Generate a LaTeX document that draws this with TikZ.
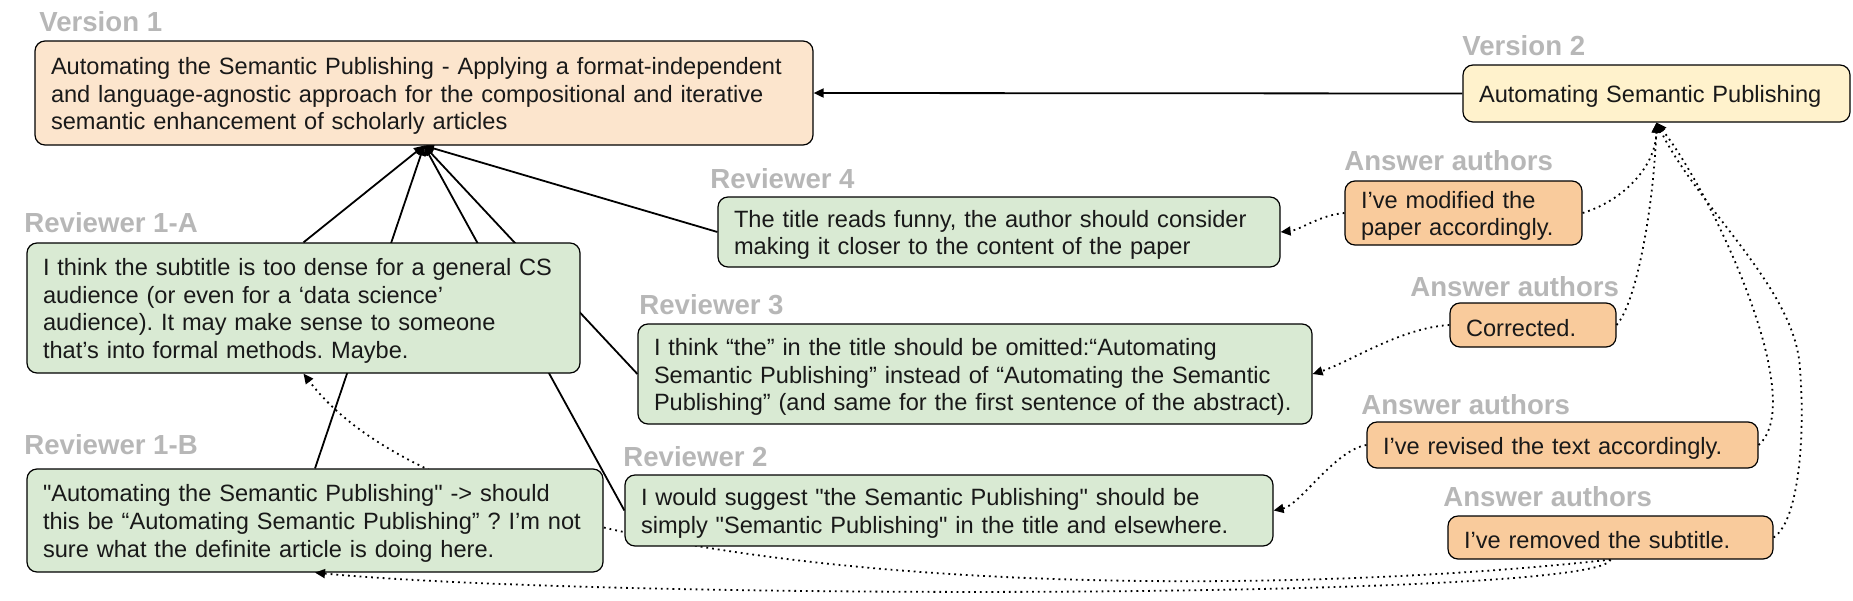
\documentclass[tikz,border=0pt]{standalone}
\usepackage{fontspec}
\setmainfont{Liberation Sans}[Ligatures=TeXOff]
\usepackage{xcolor}
\usetikzlibrary{arrows.meta,positioning,backgrounds}
\frenchspacing

\definecolor{vonefill}{HTML}{FCE5CD}
\definecolor{vtwofill}{HTML}{FFF2CC}
\definecolor{revfill}{HTML}{D9EAD3}
\definecolor{ansfill}{HTML}{F9CB9C}
\definecolor{lblgray}{HTML}{B7B7B7}

\tikzset{
  box/.style={draw=black,line width=0.6pt,rounded corners=5pt,inner xsep=8pt,inner ysep=0pt,
    align=left,font=\fontsize{11.8}{13.9}\selectfont,text=black!90,
    execute at begin node={\rightskip=0pt plus 1fil minus 60pt\rule{0pt}{11.5pt}}},
  lbl/.style={anchor=base west,inner sep=0pt,font=\fontsize{13.8}{16}\selectfont\bfseries,text=lblgray},
  edge/.style={line width=0.9pt,-{Triangle[length=5pt,width=4.5pt]}},
  reply/.style={line width=0.9pt,dotted,-{Triangle[length=5pt,width=4.5pt]}},
}

\begin{document}
\begin{tikzpicture}[x=0.5pt,y=-0.5pt]
\useasboundingbox (0,0) rectangle (1853,600);
% versions
\node[box,fill=vonefill,text width=373pt,minimum height=52pt] (v1) at (424,93)
  {Automating the Semantic Publishing - Applying a format-independent\\ and language-agnostic approach for the compositional and iterative\\ semantic enhancement of scholarly articles};
\node[box,fill=vtwofill,text width=177.5pt,minimum height=28.5pt] (v2) at (1656.5,93.5)
  {Automating Semantic Publishing};
% reviewers
\node[box,fill=revfill,text width=265pt,minimum height=35pt] (r4) at (999,232)
  {The title reads funny, the author should consider\\ making it closer to the content of the paper};
\node[box,fill=revfill,text width=260.5pt,minimum height=65pt] (r1a) at (303.5,308)
  {I think the subtitle is too dense for a general CS\\ audience (or even for a ‘data science’\\ audience). It may make sense to someone\\ that’s into formal methods. Maybe.};
\node[box,fill=revfill,text width=321pt,minimum height=50pt] (r3) at (975,374)
  {I think “the” in the title should be omitted:“Automating\\ Semantic Publishing” instead of “Automating the Semantic\\ Publishing” (and same for the first sentence of the abstract).};
\node[box,fill=revfill,text width=308pt,minimum height=35.5pt] (r2) at (949,510.5)
  {I would suggest "the Semantic Publishing" should be\\ simply "Semantic Publishing" in the title and elsewhere.};
\node[box,fill=revfill,text width=272pt,minimum height=51.5pt] (r1b) at (315,520.5)
  {"Automating the Semantic Publishing" -> should\\ this be “Automating Semantic Publishing” ? I’m not\\ sure what the definite article is doing here.};
% answers
\node[box,fill=ansfill,text width=102.5pt,minimum height=32pt] (a1) at (1463.5,213)
  {I’ve modified the\\ paper accordingly.};
\node[box,fill=ansfill,text width=67pt,minimum height=22pt] (a2) at (1533,325) {Corrected.};
\node[box,fill=ansfill,text width=179.5pt,minimum height=23pt] (a3) at (1562.5,445)
  {I’ve revised the text accordingly.};
\node[box,fill=ansfill,text width=146.5pt,minimum height=21.5pt] (a4) at (1610.5,537.5)
  {I’ve removed the subtitle.};
% headings
\node[lbl] (lv1) at (39,31) {Version 1};
\node[lbl] (lv2) at (1462,55) {Version 2};
\node[lbl] (lr4) at (710,188) {Reviewer 4};
\node[lbl] (lr1a) at (24,232) {Reviewer 1-A};
\node[lbl] (lr3) at (639,314) {Reviewer 3};
\node[lbl] (lr2) at (623,466) {Reviewer 2};
\node[lbl] (lr1b) at (24,454) {Reviewer 1-B};
\node[lbl] (la1) at (1344,170) {Answer authors};
\node[lbl] (la2) at (1410,296) {Answer authors};
\node[lbl] (la3) at (1361,414) {Answer authors};
\node[lbl] (la4) at (1443,506) {Answer authors};
% comments -> version 1 (behind the boxes)
\begin{pgfonlayer}{background}
\foreach \src in {r1a.north,r1b.north,r2.west,r3.west,r4.west}
  \draw[edge] (\src) -- (v1.south);
\draw[reply] (a4.south) .. controls (1250,600) and (480,605) .. (r1a.south);
\end{pgfonlayer}
\draw[edge] (v2.west) -- (v1.east);
% answers -> version 2
\draw[reply] (a1.east) .. controls (1625,200) and (1656,165) .. (v2.south);
\draw[reply] (a2.east) .. controls (1638,300) and (1654,200) .. (v2.south);
\draw[reply] (a3.east) .. controls (1810,400) and (1710,190) .. (v2.south);
\draw[reply] (a4.east) .. controls (1800,520) and (1805,430) .. (1800,370)
  .. controls (1797,290) and (1700,210) .. (v2.south);
% answers -> reviewers
\draw[reply] (a1.west) .. controls (1320,215) and (1300,230) .. (r4.east);
\draw[reply] (a2.west) .. controls (1400,328) and (1350,362) .. (r3.east);
\draw[reply] (a3.west) .. controls (1335,450) and (1300,505) .. (r2.east);
\draw[reply] (a4.south) .. controls (1600,600) and (600,600) .. (r1b.south);
\end{tikzpicture}
\end{document}
